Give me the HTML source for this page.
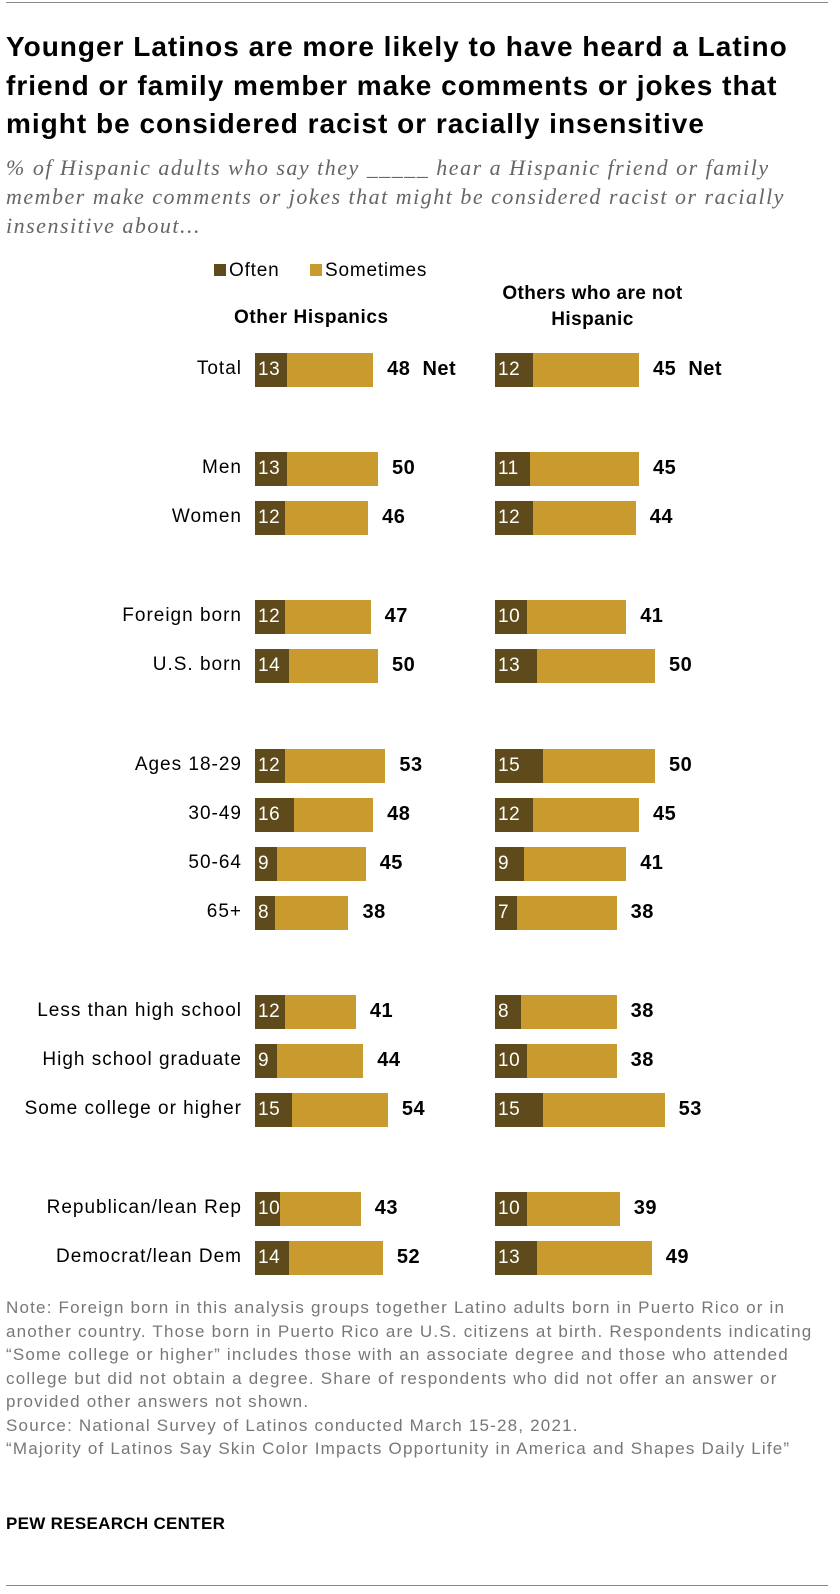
<!DOCTYPE html>
<html><head><meta charset="utf-8"><style>
body{margin:0;width:840px;height:1594px;background:#fff;font-family:"Liberation Sans",sans-serif;position:relative;overflow:hidden}
.a{position:absolute;white-space:nowrap}
</style></head><body>
<div class="a" style="left:6px;top:2px;width:822px;height:1px;background:#888"></div>
<div class="a" style="left:6px;top:28px;font-size:28px;letter-spacing:1px;font-weight:bold;line-height:38.5px;color:#000">Younger Latinos are more likely to have heard a Latino<br>friend or family member make comments or jokes that<br>might be considered racist or racially insensitive</div>
<div class="a" style="left:6px;top:153px;font-size:22px;letter-spacing:1.5px;font-style:italic;font-family:'Liberation Serif',serif;line-height:29px;color:#666">% of Hispanic adults who say they _____ hear a Hispanic friend or family<br>member make comments or jokes that might be considered racist or racially<br>insensitive about...</div>
<div class="a" style="left:214px;top:260px;font-size:19px;letter-spacing:0.8px"><span style="display:inline-block;width:12px;height:12px;background:#5e4a1a;margin-right:3px"></span>Often</div>
<div class="a" style="left:310px;top:260px;font-size:19px;letter-spacing:0.8px"><span style="display:inline-block;width:12px;height:12px;background:#c99a2e;margin-right:3px"></span>Sometimes</div>
<div class="a" style="left:234px;top:307px;font-size:19px;letter-spacing:0.6px;font-weight:bold">Other Hispanics</div>
<div class="a" style="left:490px;top:281px;font-size:19px;letter-spacing:0.4px;font-weight:bold;text-align:center;line-height:26px;width:205px">Others who are not<br>Hispanic</div>
<div id="chart"></div>
<div class="a" style="left:6px;top:1296px;font-size:17px;letter-spacing:1.2px;line-height:23.5px;color:#777">Note: Foreign born in this analysis groups together Latino adults born in Puerto Rico or in<br>another country. Those born in Puerto Rico are U.S. citizens at birth. Respondents indicating<br>“Some college or higher” includes those with an associate degree and those who attended<br>college but did not obtain a degree. Share of respondents who did not offer an answer or<br>provided other answers not shown.<br>Source: National Survey of Latinos conducted March 15-28, 2021.<br>“Majority of Latinos Say Skin Color Impacts Opportunity in America and Shapes Daily Life”</div>
<div class="a" style="left:6px;top:1514px;font-size:17px;letter-spacing:0.3px;font-weight:bold">PEW RESEARCH CENTER</div>
<div class="a" style="left:6px;top:1585px;width:822px;height:1px;background:#888"></div>
<script>
const categories=["Total","Men","Women","Foreign born","U.S. born","Ages 18-29","30-49","50-64","65+","Less than high school","High school graduate","Some college or higher","Republican/lean Rep","Democrat/lean Dem"];
const rowY=[370,469,518,617,666,766,815,864,913,1012,1061,1110,1209,1258];
const hispOften=[13,13,12,12,14,12,16,9,8,12,9,15,10,14];
const hispNet=[48,50,46,47,50,53,48,45,38,41,44,54,43,52];
const nonOften=[12,11,12,10,13,15,12,9,7,8,10,15,10,13];
const nonNet=[45,45,44,41,50,50,45,41,38,38,38,53,39,49];
const panels=[{x0:255,k:2.46,o:hispOften,n:hispNet,name:'hispanic'},{x0:495,k:3.2,o:nonOften,n:nonNet,name:'non-hispanic'}];
const c=document.getElementById('chart');
function mk(css,txt){const d=document.createElement('div');d.className='a';d.style.cssText=css;if(txt!==undefined)d.textContent=txt;c.appendChild(d);return d;}
categories.forEach((cat,i)=>{
  const y=rowY[i];
  const l=mk(`right:${840-242}px;top:${y-12}px;font-size:19px;letter-spacing:1px;color:#000`,cat);
  
  
  panels.forEach(p=>{
    const wo=p.o[i]*p.k,wn=p.n[i]*p.k;
    const s=mk(`left:${p.x0}px;top:${y-17}px;width:${wn}px;height:34px;background:#c99a2e`);
    
    
    const o=mk(`left:${p.x0}px;top:${y-17}px;width:${wo}px;height:34px;background:#5e4a1a;color:#fff;font-size:19px;letter-spacing:0.5px;line-height:34px;text-indent:3px;overflow:visible`,String(p.o[i]));
    
    
    const v=mk(`left:${p.x0+wn+14}px;top:${y-12}px;font-size:20px;letter-spacing:0.5px;font-weight:bold`,p.n[i]+(i===0?'  Net':''));
    v.style.whiteSpace='pre';
    
    
  });
});
</script>
</body></html>
